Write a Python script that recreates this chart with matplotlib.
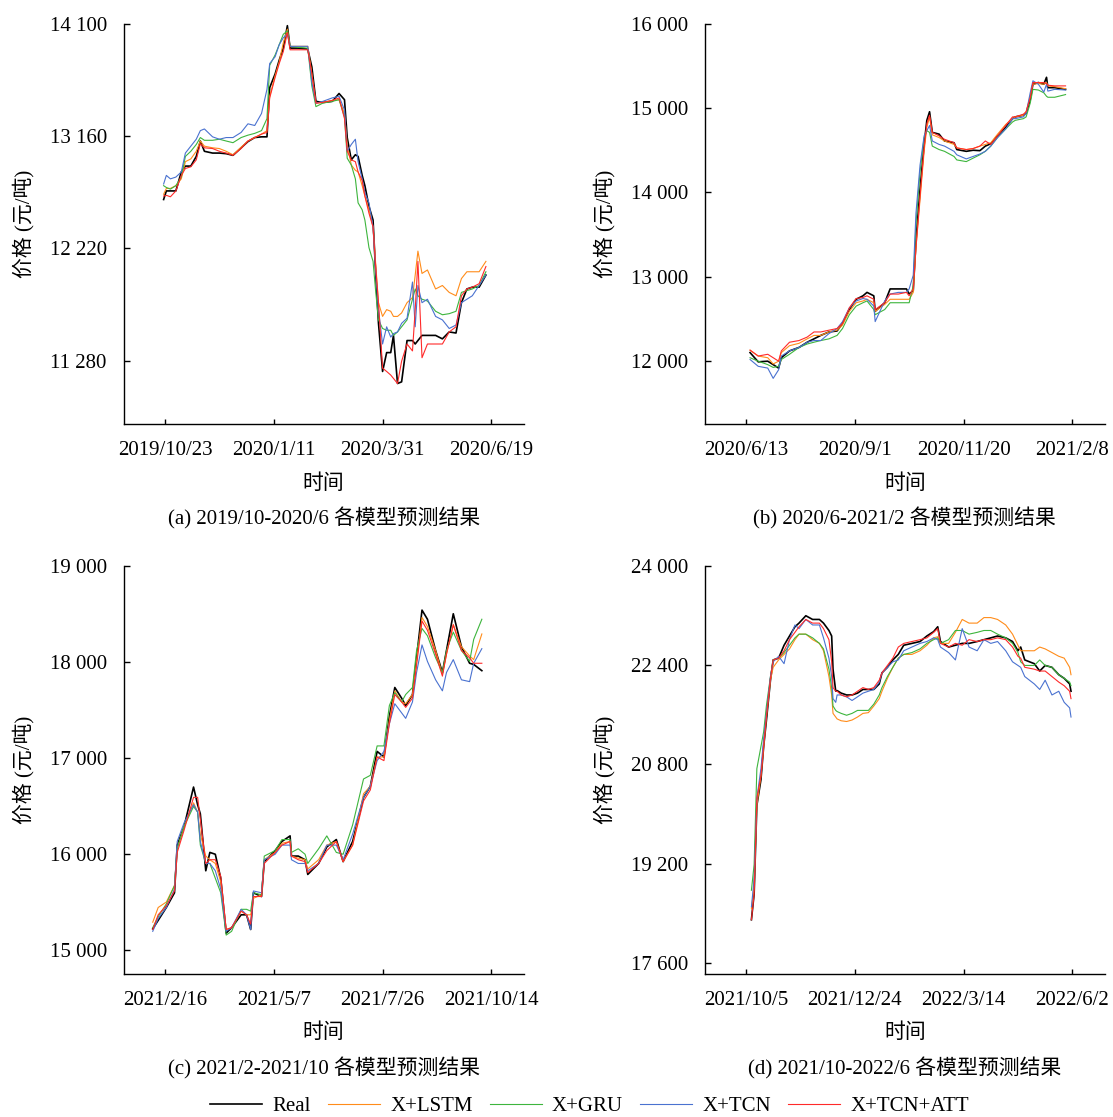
import matplotlib
matplotlib.use("Agg")
import matplotlib.pyplot as plt
import pandas as pd

plt.rcParams['font.family'] = ['Liberation Serif', 'Noto Sans CJK SC']
plt.rcParams['font.size'] = 15
plt.rcParams['axes.unicode_minus'] = False

W, H = 1113, 1117

series_names = ['Real', 'X+LSTM', 'X+GRU', 'X+TCN', 'X+TCN+ATT']
series_colors = ['#000000', '#FF8C1A', '#3DB53D', '#4A72D0', '#FF2A2A']
series_widths = [1.2, 0.8, 0.8, 0.8, 0.8]

# ---------------- (a) 2019/10 - 2020/6 ----------------
a_dates = ['2019-10-22', '2019-10-24', '2019-10-27', '2019-10-31', '2019-11-04', '2019-11-07', '2019-11-11', '2019-11-15', '2019-11-18', '2019-11-21',
           '2019-11-27', '2019-12-02', '2019-12-07', '2019-12-12', '2019-12-18', '2019-12-23', '2019-12-28', '2020-01-02', '2020-01-06', '2020-01-08',
           '2020-01-12', '2020-01-15', '2020-01-18', '2020-01-21', '2020-01-23', '2020-01-29', '2020-02-05', '2020-02-08', '2020-02-11', '2020-02-16',
           '2020-02-23', '2020-02-28', '2020-03-03', '2020-03-05', '2020-03-08', '2020-03-11', '2020-03-13', '2020-03-16', '2020-03-18', '2020-03-21',
           '2020-03-24', '2020-03-26', '2020-03-28', '2020-03-31', '2020-04-03', '2020-04-06', '2020-04-08', '2020-04-11', '2020-04-14', '2020-04-18',
           '2020-04-22', '2020-04-24', '2020-04-26', '2020-04-29', '2020-05-03', '2020-05-09', '2020-05-14', '2020-05-19', '2020-05-24', '2020-05-28',
           '2020-06-01', '2020-06-05', '2020-06-10', '2020-06-15']
a_real = [12630, 12702, 12702, 12702, 12861, 12910, 12910, 12991, 13120, 13034,
          13019, 13019, 13014, 13000, 13063, 13115, 13149, 13155, 13155, 13567,
          13682, 13797, 13898, 14086, 13898, 13898, 13890, 13740, 13452, 13443,
          13452, 13518, 13466, 13149, 12962, 13005, 12991, 12832, 12746, 12573,
          12458, 11997, 11593, 11190, 11348, 11348, 11492, 11089, 11103, 11449,
          11449, 11420, 11449, 11492, 11492, 11492, 11463, 11521, 11512, 11766,
          11881, 11896, 11896, 11997]
a_lstm = [12674, 12723, 12723, 12746, 12803, 12947, 12970, 13034, 13120, 13077,
          13063, 13057, 13034, 13005, 13068, 13120, 13149, 13178, 13207, 13495,
          13668, 13783, 13942, 14057, 13913, 13913, 13913, 13682, 13437, 13443,
          13460, 13466, 13351, 13091, 12919, 12875, 12861, 12746, 12659, 12544,
          12400, 12083, 11766, 11651, 11708, 11694, 11651, 11651, 11680, 11766,
          11809, 11997, 12198, 12011, 12040, 11881, 11910, 11852, 11824, 11968,
          12025, 12025, 12025, 12112]
a_gru = [12746, 12731, 12717, 12746, 12818, 12991, 13034, 13091, 13149, 13126,
         13126, 13135, 13120, 13106, 13149, 13169, 13184, 13207, 13308, 13754,
         13841, 13927, 14014, 14042, 13913, 13904, 13898, 13581, 13408, 13437,
         13452, 13466, 13322, 12976, 12919, 12803, 12602, 12544, 12458, 12227,
         12112, 11852, 11622, 11550, 11535, 11535, 11492, 11521, 11564, 11622,
         11795, 11881, 11824, 11795, 11780, 11694, 11665, 11674, 11694, 11852,
         11867, 11881, 11910, 12025]
a_tcn = [12760, 12832, 12803, 12818, 12861, 13019, 13077, 13135, 13207, 13221,
         13155, 13135, 13149, 13149, 13192, 13264, 13250, 13351, 13553, 13769,
         13826, 13927, 13985, 14014, 13913, 13913, 13913, 13610, 13437, 13452,
         13481, 13495, 13380, 13034, 13091, 13135, 12947, 12803, 12688, 12602,
         12400, 12025, 11708, 11420, 11564, 11478, 11507, 11521, 11593, 11636,
         11939, 11564, 11910, 11766, 11795, 11651, 11622, 11550, 11579, 11766,
         11795, 11824, 11910, 11997]
a_att = [12659, 12665, 12653, 12702, 12832, 12890, 12904, 12962, 13097, 13063,
         13057, 13034, 13019, 13000, 13057, 13120, 13149, 13178, 13192, 13481,
         13653, 13769, 13869, 14028, 13884, 13884, 13884, 13682, 13437, 13443,
         13460, 13481, 13308, 13034, 12962, 12947, 12861, 12789, 12659, 12515,
         12400, 12054, 11766, 11218, 11190, 11160, 11132, 11089, 11276, 11420,
         11362, 11708, 12112, 11305, 11420, 11420, 11420, 11521, 11564, 11824,
         11881, 11896, 11925, 12069]
a_xticks = ['2019/10/23', '2020/1/11', '2020/3/31', '2020/6/19']
a_yticks = [11280, 12220, 13160, 14100]
a_ylim = (10750, 14100)
a_caption = '(a) 2019/10-2020/6 各模型预测结果'

# ---------------- (b) 2020/6 - 2021/2 ----------------
b_dates = ['2020-06-16', '2020-06-22', '2020-06-29', '2020-07-03', '2020-07-07', '2020-07-09', '2020-07-15', '2020-07-22', '2020-07-28', '2020-08-02',
           '2020-08-07', '2020-08-13', '2020-08-19', '2020-08-23', '2020-08-28', '2020-09-02', '2020-09-07', '2020-09-10', '2020-09-15', '2020-09-16',
           '2020-09-23', '2020-09-27', '2020-10-03', '2020-10-09', '2020-10-11', '2020-10-14', '2020-10-16', '2020-10-19', '2020-10-22', '2020-10-24',
           '2020-10-26', '2020-10-28', '2020-11-02', '2020-11-06', '2020-11-13', '2020-11-15', '2020-11-22', '2020-11-27', '2020-12-02', '2020-12-06',
           '2020-12-10', '2020-12-15', '2020-12-21', '2020-12-26', '2020-12-28', '2021-01-03', '2021-01-05', '2021-01-08', '2021-01-10', '2021-01-14',
           '2021-01-18', '2021-01-20', '2021-01-21', '2021-01-26', '2021-02-03']
b_real = [12098, 11988, 11996, 11955, 11914, 12037, 12118, 12159, 12221, 12261,
          12302, 12343, 12355, 12445, 12609, 12731, 12772, 12813, 12772, 12588,
          12690, 12854, 12854, 12854, 12793, 12834, 13426, 14039, 14570, 14856,
          14958, 14713, 14692, 14611, 14590, 14509, 14488, 14501, 14496, 14550,
          14578, 14672, 14774, 14876, 14897, 14917, 14938, 15101, 15285, 15305,
          15285, 15367, 15244, 15244, 15224]
b_lstm = [12127, 12057, 12037, 11963, 11996, 12098, 12180, 12208, 12261, 12302,
          12302, 12343, 12364, 12425, 12588, 12690, 12711, 12731, 12690, 12588,
          12670, 12731, 12731, 12731, 12731, 12813, 13344, 13916, 14488, 14774,
          14897, 14684, 14652, 14611, 14570, 14529, 14509, 14521, 14550, 14570,
          14590, 14692, 14807, 14876, 14897, 14917, 14958, 15142, 15285, 15293,
          15285, 15305, 15265, 15256, 15232]
b_gru = [12037, 11996, 11955, 11922, 11935, 12016, 12078, 12159, 12200, 12221,
         12241, 12261, 12302, 12384, 12548, 12650, 12690, 12711, 12609, 12548,
         12609, 12690, 12690, 12690, 12690, 12895, 13630, 14243, 14652, 14733,
         14713, 14550, 14509, 14488, 14427, 14386, 14366, 14407, 14447, 14488,
         14550, 14652, 14754, 14836, 14856, 14876, 14897, 15060, 15224, 15216,
         15183, 15142, 15130, 15130, 15162]
b_tcn = [12016, 11935, 11914, 11792, 11894, 12057, 12118, 12159, 12221, 12241,
         12241, 12323, 12384, 12466, 12629, 12711, 12740, 12731, 12650, 12466,
         12711, 12793, 12813, 12813, 12854, 13017, 13753, 14325, 14672, 14733,
         14795, 14611, 14570, 14550, 14488, 14447, 14398, 14427, 14456, 14488,
         14550, 14652, 14754, 14876, 14876, 14897, 14938, 15183, 15326, 15285,
         15191, 15285, 15203, 15224, 15216]
b_att = [12127, 12057, 12078, 12037, 11996, 12118, 12221, 12241, 12282, 12343,
         12343, 12364, 12384, 12445, 12629, 12740, 12752, 12772, 12731, 12609,
         12690, 12793, 12793, 12813, 12772, 12854, 13344, 13957, 14529, 14815,
         14917, 14713, 14672, 14631, 14590, 14529, 14509, 14521, 14550, 14611,
         14570, 14672, 14795, 14897, 14897, 14929, 14958, 15121, 15305, 15305,
         15305, 15293, 15273, 15265, 15265]
b_xticks = ['2020/6/13', '2020/9/1', '2020/11/20', '2021/2/8']
b_yticks = [12000, 13000, 14000, 15000, 16000]
b_ylim = (11250, 16000)
b_caption = '(b) 2020/6-2021/2 各模型预测结果'

# ---------------- (c) 2021/2 - 2021/10 ----------------
c_dates = ['2021-02-07', '2021-02-11', '2021-02-17', '2021-02-23', '2021-02-25', '2021-03-02', '2021-03-09', '2021-03-12', '2021-03-14', '2021-03-18',
           '2021-03-21', '2021-03-25', '2021-03-29', '2021-04-02', '2021-04-06', '2021-04-13', '2021-04-17', '2021-04-20', '2021-04-22', '2021-04-28',
           '2021-04-30', '2021-05-08', '2021-05-13', '2021-05-19', '2021-05-20', '2021-05-25', '2021-05-30', '2021-06-01', '2021-06-09', '2021-06-15',
           '2021-06-22', '2021-06-27', '2021-07-04', '2021-07-12', '2021-07-17', '2021-07-22', '2021-07-27', '2021-07-31', '2021-08-04', '2021-08-09',
           '2021-08-12', '2021-08-17', '2021-08-20', '2021-08-24', '2021-08-28', '2021-09-03', '2021-09-08', '2021-09-11', '2021-09-16', '2021-09-22',
           '2021-09-28', '2021-10-01', '2021-10-07']
c_real = [15225, 15313, 15447, 15600, 16096, 16287, 16700, 16517, 16421, 15829,
          16020, 16001, 15752, 15180, 15237, 15371, 15371, 15218, 15600, 15561,
          15924, 16039, 16134, 16192, 15982, 15982, 15944, 15791, 15905, 16077,
          16154, 15924, 16134, 16593, 16708, 17071, 17013, 17434, 17736, 17625,
          17548, 17663, 18045, 18541, 18446, 18121, 17892, 18121, 18503, 18160,
          17988, 17976, 17911]
c_lstm = [15294, 15447, 15504, 15676, 16058, 16287, 16536, 16440, 16211, 15982,
          15944, 15905, 15714, 15218, 15237, 15409, 15371, 15371, 15542, 15580,
          15944, 16020, 16115, 16134, 15982, 15960, 15944, 15848, 15944, 16096,
          16134, 15924, 16096, 16631, 16708, 17013, 17013, 17395, 17701, 17586,
          17567, 17663, 18007, 18465, 18370, 18121, 17873, 18083, 18389, 18160,
          18064, 18026, 18293]
c_gru = [15237, 15351, 15485, 15676, 16058, 16287, 16498, 16440, 16096, 15905,
         15905, 15752, 15600, 15160, 15199, 15428, 15428, 15409, 15600, 15580,
         15982, 16039, 16154, 16154, 16020, 16058, 16001, 15905, 16058, 16192,
         16020, 16001, 16307, 16784, 16822, 17128, 17128, 17548, 17682, 17586,
         17663, 17736, 18121, 18350, 18274, 18045, 17892, 18121, 18312, 18121,
         18007, 18236, 18446]
c_tcn = [15199, 15332, 15447, 15638, 16134, 16326, 16517, 16440, 16134, 15905,
         15905, 15829, 15638, 15199, 15237, 15428, 15371, 15218, 15619, 15600,
         15944, 16001, 16096, 16096, 15944, 15905, 15905, 15829, 15905, 16096,
         16096, 15944, 16211, 16593, 16708, 16975, 17071, 17357, 17567, 17472,
         17415, 17586, 17892, 18179, 18007, 17816, 17701, 17892, 18026, 17816,
         17797, 17988, 18140]
c_att = [15218, 15371, 15466, 15619, 16020, 16249, 16593, 16593, 16364, 15905,
         15944, 15944, 15772, 15218, 15237, 15409, 15371, 15275, 15561, 15561,
         15905, 16020, 16096, 16134, 15982, 15944, 15924, 15810, 15905, 16039,
         16134, 15924, 16096, 16555, 16670, 17013, 16975, 17357, 17663, 17586,
         17529, 17625, 17968, 18427, 18331, 18083, 17854, 18083, 18389, 18121,
         18045, 17988, 17988]
c_xticks = ['2021/2/16', '2021/5/7', '2021/7/26', '2021/10/14']
c_yticks = [15000, 16000, 17000, 18000, 19000]
c_ylim = (14755, 19000)
c_caption = '(c) 2021/2-2021/10 各模型预测结果'

# ---------------- (d) 2021/10 - 2022/6 ----------------
d_dates = ['2021-10-09', '2021-10-11', '2021-10-13', '2021-10-16', '2021-10-18', '2021-10-20', '2021-10-23', '2021-10-25', '2021-10-29', '2021-11-02',
           '2021-11-06', '2021-11-10', '2021-11-13', '2021-11-18', '2021-11-23', '2021-11-28', '2021-12-01', '2021-12-05', '2021-12-07', '2021-12-08',
           '2021-12-10', '2021-12-11', '2021-12-14', '2021-12-18', '2021-12-22', '2021-12-26', '2021-12-30', '2022-01-03', '2022-01-07', '2022-01-11',
           '2022-01-13', '2022-01-17', '2022-01-21', '2022-01-25', '2022-01-29', '2022-02-04', '2022-02-10', '2022-02-15', '2022-02-20', '2022-02-23',
           '2022-02-25', '2022-03-03', '2022-03-08', '2022-03-13', '2022-03-18', '2022-03-24', '2022-03-29', '2022-04-03', '2022-04-08', '2022-04-14',
           '2022-04-19', '2022-04-23', '2022-04-25', '2022-04-28', '2022-05-05', '2022-05-09', '2022-05-13', '2022-05-18', '2022-05-23', '2022-05-27',
           '2022-05-31', '2022-06-01']
d_real = [18295, 18711, 20137, 20553, 21088, 21504, 22158, 22485, 22514, 22722,
          22871, 23020, 23079, 23198, 23138, 23138, 23079, 22960, 22871, 22336,
          21980, 21991, 21950, 21920, 21920, 21950, 22009, 22009, 22009, 22098,
          22277, 22366, 22485, 22574, 22722, 22752, 22782, 22871, 22942, 23020,
          22782, 22693, 22722, 22752, 22752, 22782, 22812, 22841, 22871, 22841,
          22782, 22633, 22693, 22485, 22425, 22306, 22396, 22366, 22247, 22188,
          22098, 21980]
d_lstm = [18474, 18830, 20137, 20613, 21088, 21564, 22158, 22366, 22485, 22574,
          22663, 22812, 22901, 22901, 22812, 22752, 22633, 22217, 21920, 21623,
          21564, 21534, 21504, 21492, 21516, 21564, 21623, 21635, 21742, 21861,
          21980, 22188, 22366, 22514, 22574, 22574, 22633, 22722, 22841, 22859,
          22752, 22752, 22930, 23138, 23079, 23079, 23168, 23168, 23138, 23049,
          22901, 22722, 22633, 22633, 22633, 22693, 22663, 22604, 22544, 22514,
          22366, 22247]
d_gru = [18771, 19187, 20732, 21088, 21326, 21742, 22217, 22485, 22514, 22604,
         22722, 22841, 22901, 22901, 22841, 22752, 22663, 22336, 22039, 21742,
         21671, 21653, 21623, 21593, 21623, 21671, 21671, 21671, 21772, 21920,
         22039, 22217, 22366, 22514, 22574, 22604, 22663, 22752, 22812, 22841,
         22752, 22812, 22960, 22960, 22901, 22930, 22960, 22960, 22901, 22841,
         22752, 22604, 22455, 22396, 22396, 22485, 22396, 22366, 22247, 22188,
         22128, 22069]
d_tcn = [18503, 18949, 20256, 20732, 21207, 21623, 22217, 22455, 22544, 22425,
         22812, 23049, 22990, 23138, 23049, 23049, 22841, 22514, 22217, 21861,
         21801, 21920, 21920, 21890, 21831, 21890, 21950, 21980, 22009, 22128,
         22277, 22366, 22455, 22485, 22633, 22693, 22752, 22782, 22841, 22812,
         22693, 22604, 22485, 22990, 22693, 22633, 22812, 22752, 22782, 22633,
         22455, 22396, 22366, 22217, 22098, 22009, 22158, 21920, 21980, 21801,
         21712, 21564]
d_att = [18295, 18711, 20256, 20613, 21088, 21564, 22188, 22485, 22514, 22633,
         22812, 22930, 23020, 23138, 23079, 23079, 22990, 22812, 22455, 22039,
         21980, 21980, 21920, 21890, 21920, 21980, 22039, 22009, 22039, 22158,
         22277, 22396, 22514, 22693, 22752, 22782, 22812, 22841, 22930, 22990,
         22752, 22693, 22752, 22722, 22812, 22782, 22812, 22812, 22841, 22812,
         22693, 22544, 22514, 22366, 22336, 22306, 22306, 22217, 22128, 22069,
         21980, 21861]
d_xticks = ['2021/10/5', '2021/12/24', '2022/3/14', '2022/6/2']
d_yticks = [17600, 19200, 20800, 22400, 24000]
d_ylim = (17420, 24000)
d_caption = '(d) 2021/10-2022/6 各模型预测结果'

panels = [
    (a_dates, [a_real, a_lstm, a_gru, a_tcn, a_att], a_xticks, a_yticks, a_ylim, a_caption, (123.5, 524, 24, 424)),
    (b_dates, [b_real, b_lstm, b_gru, b_tcn, b_att], b_xticks, b_yticks, b_ylim, b_caption, (704.5, 1105, 24, 424)),
    (c_dates, [c_real, c_lstm, c_gru, c_tcn, c_att], c_xticks, c_yticks, c_ylim, c_caption, (123.5, 524, 566, 974)),
    (d_dates, [d_real, d_lstm, d_gru, d_tcn, d_att], d_xticks, d_yticks, d_ylim, d_caption, (704.5, 1105, 566, 974)),
]

fig = plt.figure(figsize=(W / 100, H / 100), dpi=100)
fig.patch.set_facecolor('white')

handles = None
for dates, ys, xticks, yticks, ylim, caption, (x0, x1, y0, y1) in panels:
    ax = fig.add_axes([x0 / W, 1 - y1 / H, (x1 - x0) / W, (y1 - y0) / H])
    t = pd.to_datetime(dates)
    lines = []
    for vals, name, col, lw in zip(ys, series_names, series_colors, series_widths):
        ln, = ax.plot(t, vals, color=col, lw=lw, label=name)
        lines.append(ln)
    handles = lines

    tick_dates = pd.to_datetime(xticks, format='%Y/%m/%d')
    ax.set_xticks(tick_dates)
    ax.set_xticklabels(xticks)
    ax.set_xlim(tick_dates[0] - pd.Timedelta(days=30.5), tick_dates[-1] + pd.Timedelta(days=24))
    ax.set_yticks(yticks)
    ax.set_yticklabels([f'{v:,}'.replace(',', ' ') for v in yticks])
    ax.set_ylim(*ylim)

    for side in ('top', 'right'):
        ax.spines[side].set_visible(False)
    for side in ('left', 'bottom'):
        ax.spines[side].set_linewidth(1.0)
    ax.tick_params(axis='x', direction='in', length=3.5, width=1.0, pad=12.5, labelsize=15)
    ax.tick_params(axis='y', direction='in', length=4.3, width=1.0, pad=12, labelsize=15)

    h = y1 - y0
    w = x1 - x0
    ax.text(0.5, -60 / h if h < 405 else -59 / h, '时间', transform=ax.transAxes,
            ha='center', va='center', fontsize=15)
    ax.text(0.5, -94 / h, caption, transform=ax.transAxes,
            ha='center', va='center', fontsize=15)
    ax.text(-100 / w, 0.5, '价格 (元/吨)', transform=ax.transAxes, rotation=90,
            ha='center', va='center', fontsize=15)

fig.legend(handles, series_names, loc='center', bbox_to_anchor=(589.5 / W, 1 - 1106 / H),
           ncol=5, frameon=False, handlelength=2.5, handletextpad=0.5, columnspacing=0.8,
           fontsize=15, borderpad=0.0)

fig.savefig('out.png', dpi=100, facecolor='white')
